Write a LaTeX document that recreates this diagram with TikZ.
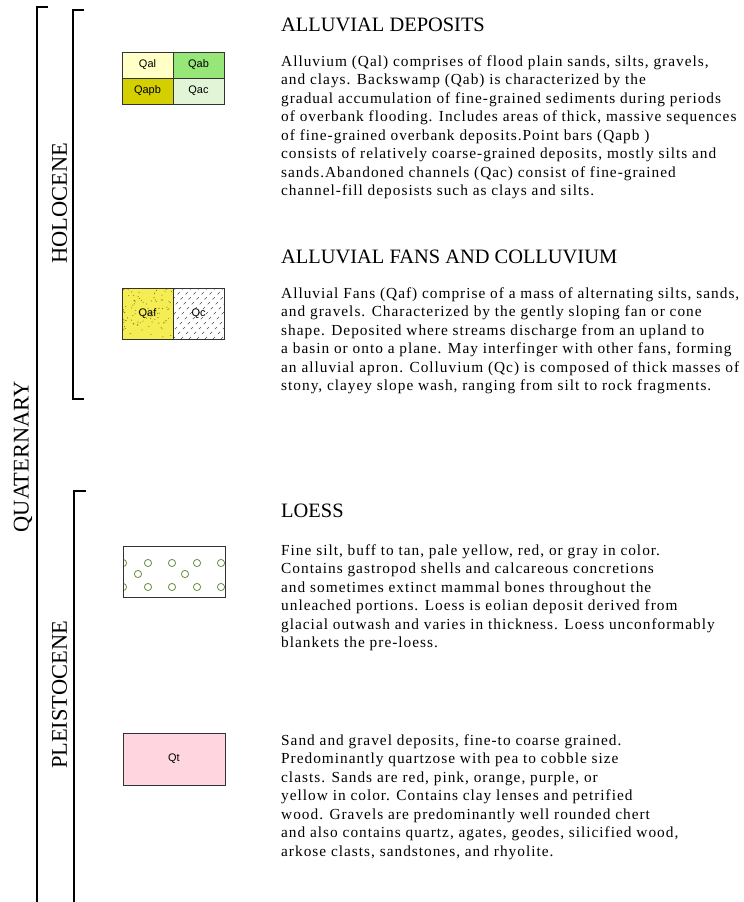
\documentclass[tikz,border=0pt]{standalone}
\usepackage{fontspec}
\setmainfont{Liberation Serif}
\setsansfont{Liberation Sans}
\newfontfamily\bodyfont[LetterSpace=6.5]{Liberation Serif}
\usepackage{tikz}
\usetikzlibrary{positioning}

\definecolor{qalcol}{RGB}{255,255,198}
\definecolor{qabcol}{RGB}{150,230,120}
\definecolor{qapbcol}{RGB}{212,208,0}
\definecolor{qaccol}{RGB}{226,245,214}
\definecolor{qafcol}{RGB}{244,238,84}
\definecolor{qtcol}{RGB}{255,214,224}
\definecolor{loesscol}{RGB}{104,140,64}
\definecolor{dotcol}{RGB}{120,110,20}

\begin{document}
\begin{tikzpicture}[x=1bp,y=-1bp,
    bracket/.style={line width=1.2bp},
    era/.style={font=\fontsize{22.5}{24}\selectfont,inner sep=0pt},
    title/.style={font=\fontsize{20.5}{24}\selectfont,inner sep=0pt,anchor=base west},
    para/.style={font=\fontsize{15.4}{18.6}\bodyfont,align=left,inner sep=0pt,anchor=north west},
    cell/.style={draw=black!80,line width=1bp,minimum width=51bp,minimum height=26bp,
                 inner sep=0pt,outer sep=0pt,font=\fontsize{11}{13}\sffamily},
    square/.style={cell,minimum height=51bp}]

  \useasboundingbox (0,0) rectangle (744,902);

  % time brackets
  \draw[bracket] (48,7) -- (37,7) -- (37,902);
  \draw[bracket] (84,10) -- (73,10) -- (73,399) -- (84,399);
  \draw[bracket] (86,491) -- (74,491) -- (74,902);

  \node[era,rotate=90] (quat) at (23,457) {QUATERNARY};
  \node[era,rotate=90] (holo) at (59.5,203) {HOLOCENE};
  \node[era,rotate=90] (pleis) at (59.5,695) {PLEISTOCENE};

  % alluvial deposits
  \node[cell,fill=qalcol] (qal) at (147.5,65) {Qal};
  \node[cell,fill=qabcol,right=0pt of qal] (qab) {Qab};
  \node[cell,fill=qapbcol,below=0pt of qal] (qapb) {Qapb};
  \node[cell,fill=qaccol,right=0pt of qapb] (qac) {Qac};

  % alluvial fans and colluvium
  \fill[qafcol] (122,288) rectangle (173,339);
  \pgfmathsetseed{11}
  \foreach \i in {1,...,90}
    \fill[dotcol] ({123+49*rnd},{289+49*rnd}) circle (0.55);
  \begin{scope}
    \clip (173,288) rectangle (224,339);
    \foreach \k in {-56,-48,...,56}
      \draw[black!70,line width=0.5bp,dash pattern=on 3bp off 4bp] (173+\k,339) -- ++(51,-51);
  \end{scope}
  \node[square] (qaf) at (147.5,313.5) {Qaf};
  \node[square,right=0pt of qaf] (qc) {Qc};

  % loess
  \begin{scope}
    \clip (123,546) rectangle (225,597);
    \foreach \x in {123,148,172,197,221} {
      \draw[loesscol,line width=0.8bp] (\x,563) circle (3.6);
      \draw[loesscol,line width=0.8bp] (\x,587) circle (3.6);
    }
    \foreach \x in {138,185}
      \draw[loesscol,line width=0.8bp] (\x,574) circle (3.6);
  \end{scope}
  \node[draw=black!80,line width=1bp,minimum width=102bp,minimum height=51bp,inner sep=0pt] (loess) at (174,571.5) {};

  % terrace deposits
  \node[draw=black!80,line width=1bp,fill=qtcol,minimum width=102bp,minimum height=52bp,
        inner sep=0pt,font=\fontsize{11}{13}\sffamily] (qt) at (174,759) {Qt};

  % descriptions
  \node[title] (t1) at (281,31) {ALLUVIAL DEPOSITS};
  \node[para] (p1) at (281,55.2) {Alluvium (Qal) comprises of flood plain sands, silts, gravels,\\
and clays. Backswamp (Qab) is characterized by the\\
gradual accumulation of fine-grained sediments during periods\\
of overbank flooding. Includes areas of thick, massive sequences\\
of fine-grained overbank deposits.Point bars (Qapb )\\
consists of relatively coarse-grained deposits, mostly silts and\\
sands.Abandoned channels (Qac) consist of fine-grained\\
channel-fill deposists such as clays and silts.};

  \node[title] (t2) at (281,263) {ALLUVIAL FANS AND COLLUVIUM};
  \node[para] (p2) at (281,287.2) {Alluvial Fans (Qaf) comprise of a mass of alternating silts, sands,\\
and gravels. Characterized by the gently sloping fan or cone\\
shape. Deposited where streams discharge from an upland to\\
a basin or onto a plane. May interfinger with other fans, forming\\
an alluvial apron. Colluvium (Qc) is composed of thick masses of\\
stony, clayey slope wash, ranging from silt to rock fragments.};

  \node[title] (t3) at (281,517) {LOESS};
  \node[para] (p3) at (281,544.2) {Fine silt, buff to tan, pale yellow, red, or gray in color.\\
Contains gastropod shells and calcareous concretions\\
and sometimes extinct mammal bones throughout the\\
unleached portions. Loess is eolian deposit derived from\\
glacial outwash and varies in thickness. Loess unconformably\\
blankets the pre-loess.};

  \node[para] (p4) at (281,734.2) {Sand and gravel deposits, fine-to coarse grained.\\
Predominantly quartzose with pea to cobble size\\
clasts. Sands are red, pink, orange, purple, or\\
yellow in color. Contains clay lenses and petrified\\
wood. Gravels are predominantly well rounded chert\\
and also contains quartz, agates, geodes, silicified wood,\\
arkose clasts, sandstones, and rhyolite.};

\end{tikzpicture}
\end{document}
